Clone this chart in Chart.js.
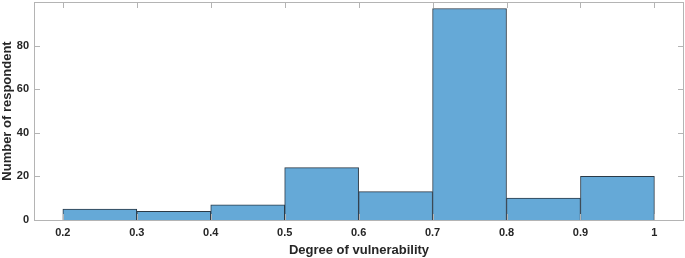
<!DOCTYPE html>
<html>
<head>
<meta charset="utf-8">
<script src="https://cdn.jsdelivr.net/npm/chart.js@4/dist/chart.umd.min.js"></script>
<style>
  html, body { margin:0; padding:0; background:#fff; }
  #wrap { width:685px; height:258px; }
</style>
</head>
<body>
<div id="wrap"><canvas id="histChart"></canvas></div>
<script>
// bin edges and counts
const binEdges = [0.2, 0.3, 0.4, 0.5, 0.6, 0.7, 0.8, 0.9, 1.0];
const counts = [5, 4, 7, 24, 13, 97, 10, 20];
const xTicks = [0.2, 0.3, 0.4, 0.5, 0.6, 0.7, 0.8, 0.9, 1];
const yTicks = [0, 20, 40, 60, 80];

const centers = counts.map((c, i) => (binEdges[i] + binEdges[i + 1]) / 2);

// box + inward ticks, matlab style
const boxPlugin = {
    id: 'box',
    afterDraw(chart){
        const { ctx, chartArea: a, scales } = chart;
        ctx.save();
        ctx.strokeStyle = '#b4b4b4';
        ctx.lineWidth = 1;
        ctx.strokeRect(a.left + 0.5, a.top + 0.5, a.right - a.left - 1, a.bottom - a.top);
        ctx.beginPath();
        xTicks.forEach(v => {
            const x = Math.round(scales.x.getPixelForValue(v)) + 0.5;
            ctx.moveTo(x, a.bottom); ctx.lineTo(x, a.bottom - 6);
            ctx.moveTo(x, a.top); ctx.lineTo(x, a.top + 6);
        });
        yTicks.forEach(v => {
            const y = Math.round(scales.y.getPixelForValue(v)) + 0.5;
            ctx.moveTo(a.left, y); ctx.lineTo(a.left + 6, y);
            ctx.moveTo(a.right, y); ctx.lineTo(a.right - 6, y);
        });
        ctx.stroke();
        ctx.restore();
    }
};

new Chart(document.getElementById('histChart'), {
    type: 'bar',
    data: {
        datasets: [{
            data: centers.map((x, i) => ({ x: x, y: counts[i] })),
            backgroundColor: '#65a9d7',
            borderColor: '#2b3a47',
            borderWidth: 1,
            barPercentage: 1,
            categoryPercentage: 1
        }]
    },
    options: {
        responsive: true,
        maintainAspectRatio: false,
        animation: false,
        layout: { padding: { top: 2, right: 1, left: 0, bottom: 0 } },
        plugins: { legend: { display: false }, tooltip: { enabled: false } },
        scales: {
            x: {
                type: 'linear',
                offset: false,
                min: 0.161, max: 1.04,
                afterBuildTicks: s => { s.ticks = xTicks.map(v => ({ value: v })); },
                afterFit: s => { s.height = 38; s.paddingLeft = 0; s.paddingRight = 0; },
                grid: { display: false, drawTicks: false, offset: false },
                border: { display: false },
                ticks: {
                    padding: 6,
                    color: '#262626',
                    font: { family: 'Liberation Sans', size: 11, weight: 'bold' },
                    callback: v => String(Math.round(v * 10) / 10)
                },
                title: {
                    display: true,
                    text: 'Degree of vulnerability',
                    color: '#262626',
                    padding: { top: 2, bottom: 0 },
                    font: { family: 'Liberation Sans', size: 13, weight: 'bold' }
                }
            },
            y: {
                min: 0, max: 100,
                afterBuildTicks: s => { s.ticks = yTicks.map(v => ({ value: v })); },
                afterFit: s => { s.width = 34; s.paddingTop = 0; s.paddingBottom = 0; },
                grid: { display: false, drawTicks: false },
                border: { display: false },
                ticks: {
                    padding: 5,
                    color: '#262626',
                    font: { family: 'Liberation Sans', size: 11, weight: 'bold' }
                },
                title: {
                    display: true,
                    text: 'Number of respondent',
                    color: '#262626',
                    padding: { top: 0, bottom: 2 },
                    font: { family: 'Liberation Sans', size: 13, weight: 'bold' }
                }
            }
        }
    },
    plugins: [boxPlugin]
});
</script>
</body>
</html>
